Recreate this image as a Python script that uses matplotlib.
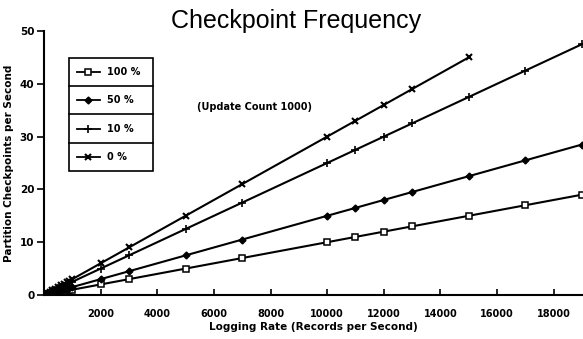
import matplotlib.pyplot as plt
from matplotlib.patches import Rectangle

# logging rate (records per second)
rate_all = [100, 200, 300, 400, 500, 600, 700, 800, 900, 1000, 2000, 3000, 5000,
            7000, 10000, 11000, 12000, 13000, 15000, 17000, 19000]
rate_0 = [100, 200, 300, 400, 500, 600, 700, 800, 900, 1000, 2000, 3000, 5000,
          7000, 10000, 11000, 12000, 13000, 15000]

# checkpoints per second
upd_100 = [0.1, 0.2, 0.3, 0.4, 0.5, 0.6, 0.7, 0.8, 0.9, 1.0, 2.0, 3.0, 5.0,
           7.0, 10.0, 11.0, 12.0, 13.0, 15.0, 17.0, 19.0]
upd_50 = [0.15, 0.3, 0.45, 0.6, 0.75, 0.9, 1.05, 1.2, 1.35, 1.5, 3.0, 4.5, 7.5,
          10.5, 15.0, 16.5, 18.0, 19.5, 22.5, 25.5, 28.5]
upd_10 = [0.25, 0.5, 0.75, 1.0, 1.25, 1.5, 1.75, 2.0, 2.25, 2.5, 5.0, 7.5, 12.5,
          17.5, 25.0, 27.5, 30.0, 32.5, 37.5, 42.5, 47.5]
upd_0 = [0.3, 0.6, 0.9, 1.2, 1.5, 1.8, 2.1, 2.4, 2.7, 3.0, 6.0, 9.0, 15.0,
         21.0, 30.0, 33.0, 36.0, 39.0, 45.0]

labels = ['100 %', '50 %', '10 %', '0 %']
xticks = [2000, 4000, 6000, 8000, 10000, 12000, 14000, 16000, 18000]
yticks = [0, 10, 20, 30, 40, 50]

styles = [dict(marker='s', mfc='white', ms=4.5, mew=1.1),
          dict(marker='D', mfc='black', ms=3.5),
          dict(marker='+', ms=6, mew=1.2),
          dict(marker='x', ms=5, mew=1.5)]

fig = plt.figure(figsize=(5.83, 3.39), dpi=100)
ax = fig.add_axes([44/583, 1-295/339, 538/583, 264/339])

series = [(rate_all, upd_100), (rate_all, upd_50), (rate_all, upd_10), (rate_0, upd_0)]
for (x, y), st in zip(series, styles):
    ax.plot(x, y, color='black', lw=1.5, mec='black', **st)

ax.set_xlim(0, 19000)
ax.set_ylim(0, 50)
ax.spines['top'].set_visible(False)
ax.spines['right'].set_visible(False)
ax.spines['left'].set_linewidth(1.5)
ax.spines['bottom'].set_linewidth(1.5)
ax.set_xticks(xticks)
ax.set_yticks(yticks)
ax.set_xticklabels([str(t) for t in xticks], fontsize=7, fontweight='bold')
ax.set_yticklabels([str(t) for t in yticks], fontsize=7.5, fontweight='bold')
ax.tick_params(axis='x', direction='in', length=4, width=1.2, pad=10)
ax.tick_params(axis='y', direction='out', length=5, width=1.2, pad=2)

ax.set_xlabel('Logging Rate (Records per Second)', fontsize=7.5, fontweight='bold', labelpad=2)
ax.set_ylabel('Partition Checkpoints per Second', fontsize=7.5, fontweight='bold', labelpad=4)
fig.text(0.508, 0.972, 'Checkpoint Frequency', ha='center', va='top',
         fontsize=18, family=['Liberation Sans Narrow', 'Liberation Sans'])

ax.text(7450, 35.6, '(Update Count 1000)', ha='center', va='center',
        fontsize=7, fontweight='bold')

# legend table
x0, x1 = 0.0465, 0.2026
ytop, ybot = 0.898, 0.470
h = (ytop - ybot) / 4
ax.add_patch(Rectangle((x0, ybot), x1 - x0, ytop - ybot, transform=ax.transAxes,
                       fill=False, lw=1.2, ec='black', clip_on=False))
for i, (lab, st) in enumerate(zip(labels, styles)):
    yc = ytop - h * (i + 0.5)
    if i > 0:
        ax.plot([x0, x1], [ytop - h * i] * 2, color='black', lw=1.2,
                transform=ax.transAxes, clip_on=False)
    ax.plot([0.061, 0.104], [yc, yc], color='black', lw=1.3,
            transform=ax.transAxes, clip_on=False)
    ax.plot([0.0825], [yc], color='black', mec='black', transform=ax.transAxes,
            clip_on=False, **st)
    ax.text(0.117, yc, lab, transform=ax.transAxes, ha='left', va='center',
            fontsize=7, fontweight='bold')

fig.savefig('out.png', dpi=100)
